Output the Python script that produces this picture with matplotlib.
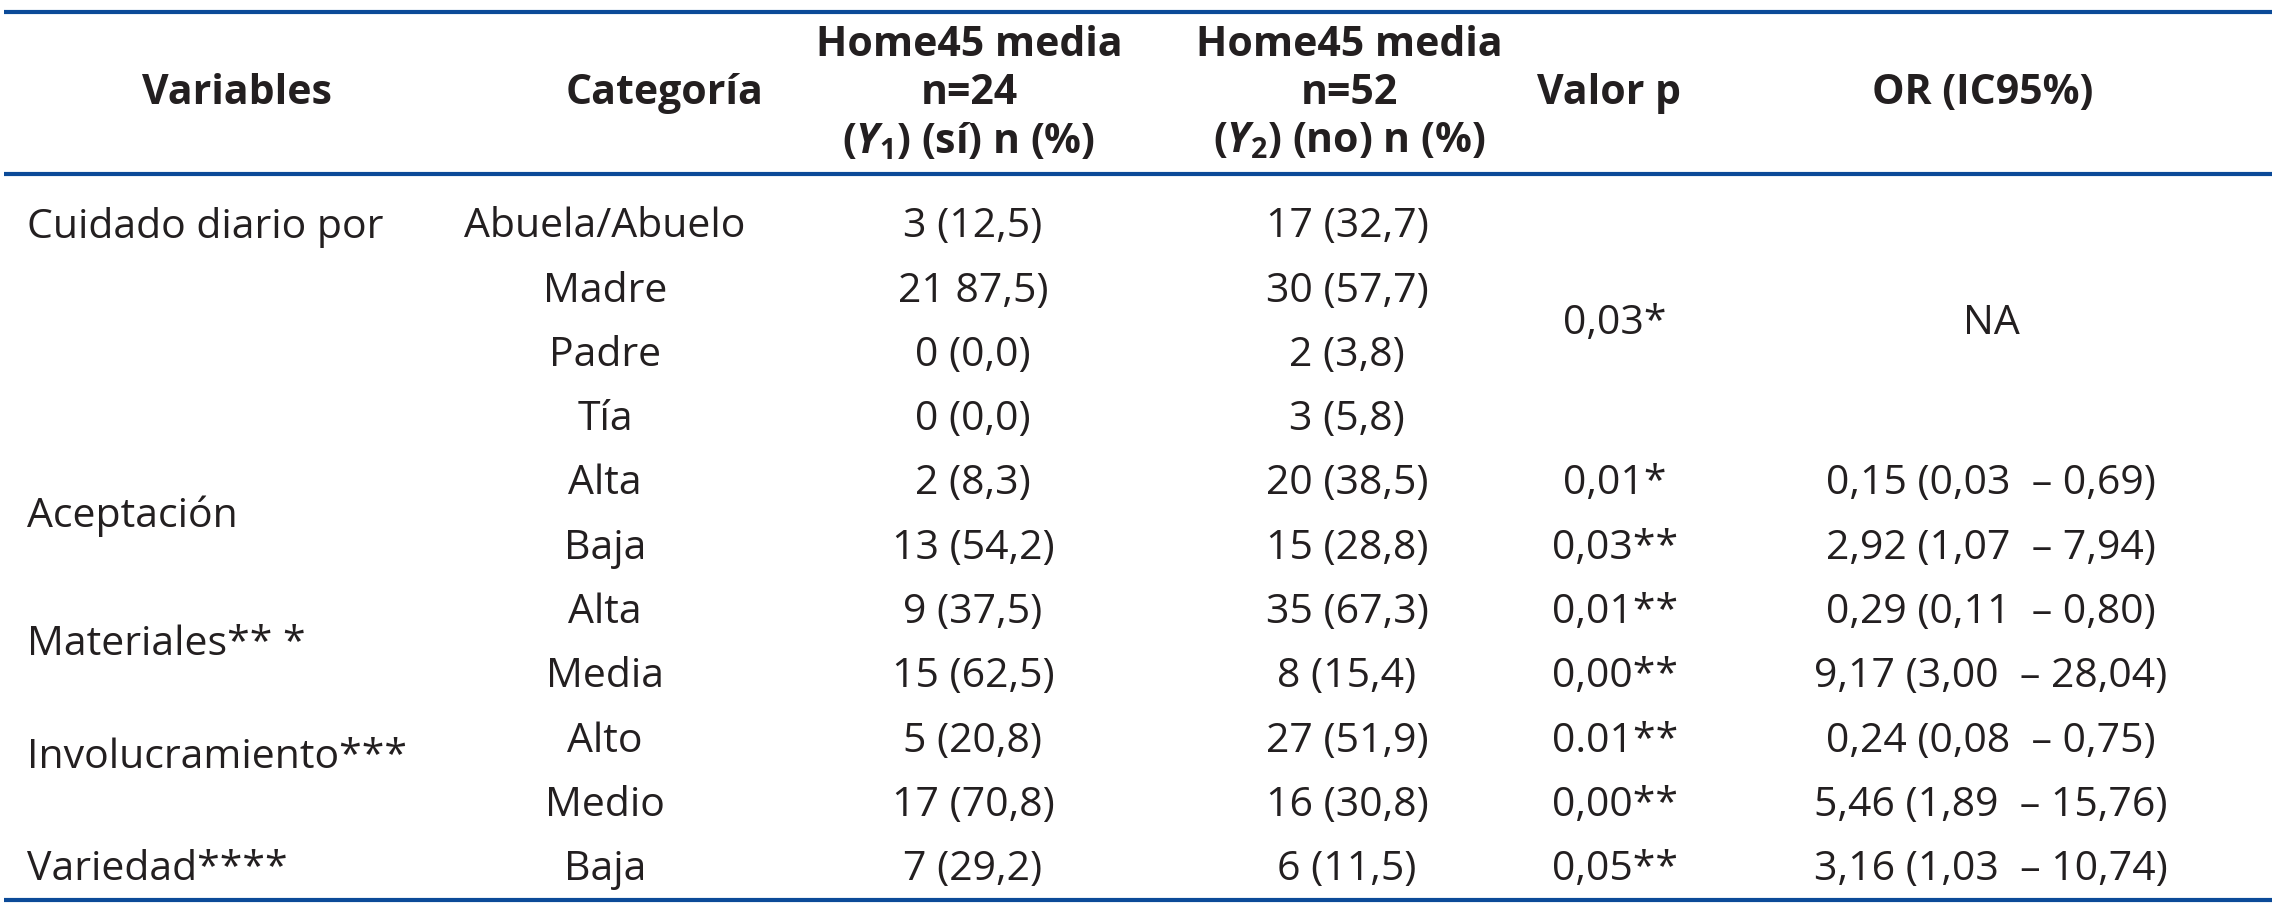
import matplotlib
matplotlib.use("Agg")
import matplotlib.pyplot as plt

# ---------------- data ----------------
headers = [["Variables"], ["Categoría"],
           ["Home45 media", "n=24", "($\\mathit{Y}_{\\mathit{1}}$) (sí) n (%)"],
           ["Home45 media", "n=52", "($\\mathit{Y}_{\\mathit{2}}$) (no) n (%)"],
           ["Valor p"], ["OR (IC95%)"]]

variables = ["Cuidado diario por", "Aceptación", "Materiales** *",
             "Involucramiento***", "Variedad****"]
variable_rows = [0.0, 4.5, 6.5, 8.25, 10.0]

categories = ["Abuela/Abuelo", "Madre", "Padre", "Tía", "Alta", "Baja",
              "Alta", "Media", "Alto", "Medio", "Baja"]
y1_si = ["3 (12,5)", "21 87,5)", "0 (0,0)", "0 (0,0)", "2 (8,3)", "13 (54,2)",
         "9 (37,5)", "15 (62,5)", "5 (20,8)", "17 (70,8)", "7 (29,2)"]
y2_no = ["17 (32,7)", "30 (57,7)", "2 (3,8)", "3 (5,8)", "20 (38,5)", "15 (28,8)",
         "35 (67,3)", "8 (15,4)", "27 (51,9)", "16 (30,8)", "6 (11,5)"]
p_values = ["0,03*", "0,01*", "0,03**", "0,01**", "0,00**", "0.01**", "0,00**", "0,05**"]
p_rows = [1.5, 4, 5, 6, 7, 8, 9, 10]
odds_ratios = ["NA", "0,15 (0,03  – 0,69)", "2,92 (1,07  – 7,94)", "0,29 (0,11  – 0,80)",
               "9,17 (3,00  – 28,04)", "0,24 (0,08  – 0,75)", "5,46 (1,89  – 15,76)",
               "3,16 (1,03  – 10,74)"]
or_rows = p_rows

# ---------------- style ----------------
plt.rcParams['font.family'] = ['Open Sans', 'DejaVu Sans']
plt.rcParams['mathtext.fontset'] = 'custom'
plt.rcParams['mathtext.it'] = 'Open Sans:italic:bold'
plt.rcParams['mathtext.rm'] = 'Open Sans:bold'
plt.rcParams['mathtext.bf'] = 'Open Sans:bold'

W, H = 2276, 906
fig = plt.figure(figsize=(W / 100, H / 100), dpi=100)
ax = fig.add_axes([0, 0, 1, 1])
ax.set_xlim(0, W)
ax.set_ylim(H, 0)
ax.axis('off')

txt = '#231f20'
rule = '#0b4a98'
fs = 29.5

# column positions
x_var = 27
col_c = [None, 605, 973, 1347, 1615, 1991]
head_c = [237, 665, 969, 1349, 1609, 1983]
head_lines_y = [41, 89, 137]
head_single_y = 88

row0, dy = 222, 64.3
def ry(r):
    return row0 + r * dy

# rules
for y in (12, 174, 900):
    ax.plot([4, 2272], [y, y], color=rule, lw=3.0, solid_capstyle='butt')

# headers
for x, h in zip(head_c, headers):
    ys = [head_single_y] if len(h) == 1 else head_lines_y
    for yy, line in zip(ys, h):
        ax.text(x, yy, line, ha='center', va='center_baseline', fontsize=fs,
                fontweight='bold', color=txt)

# body
for v, r in zip(variables, variable_rows):
    ax.text(x_var, ry(r), v, ha='left', va='center_baseline', fontsize=fs, color=txt)
for i, (c, a, b) in enumerate(zip(categories, y1_si, y2_no)):
    ax.text(col_c[1], ry(i), c, ha='center', va='center_baseline', fontsize=fs, color=txt)
    ax.text(col_c[2], ry(i), a, ha='center', va='center_baseline', fontsize=fs, color=txt)
    ax.text(col_c[3], ry(i), b, ha='center', va='center_baseline', fontsize=fs, color=txt)
for p, r in zip(p_values, p_rows):
    ax.text(col_c[4], ry(r), p, ha='center', va='center_baseline', fontsize=fs, color=txt)
for o, r in zip(odds_ratios, or_rows):
    ax.text(col_c[5], ry(r), o, ha='center', va='center_baseline', fontsize=fs, color=txt)

fig.savefig('out.png', dpi=100, facecolor='white')
